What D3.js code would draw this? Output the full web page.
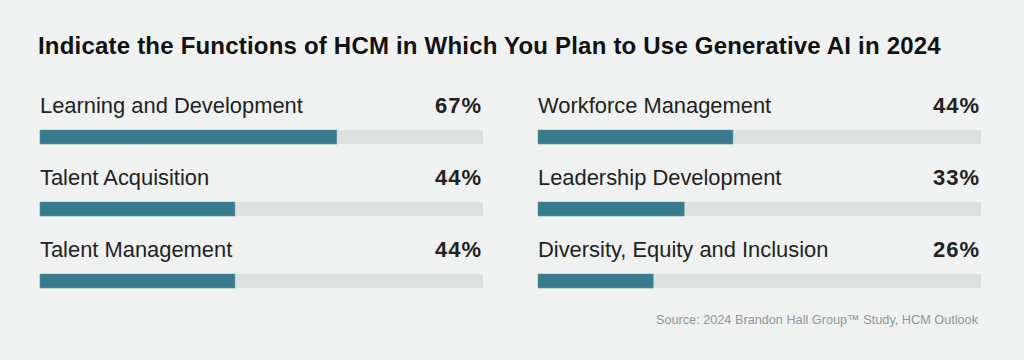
<!DOCTYPE html>
<html><head><meta charset="utf-8">
<script src="https://cdn.jsdelivr.net/npm/d3@7"></script>
<style>html,body{margin:0;padding:0;background:#f0f2f1;}svg{display:block;}</style>
</head><body>
<svg id="chart" width="1024" height="360"></svg>
<script>
const title = "Indicate the Functions of HCM in Which You Plan to Use Generative AI in 2024";
const categories = ["Learning and Development","Talent Acquisition","Talent Management","Workforce Management","Leadership Development","Diversity, Equity and Inclusion"];
const values = [67,44,44,44,33,26];
const source = "Source: 2024 Brandon Hall Group\u2122 Study, HCM Outlook";

const svg = d3.select("#chart");
const W = 1024, H = 360;
svg.append("rect").attr("width",W).attr("height",H).attr("fill","#f0f2f1");

svg.append("text").attr("x",38).attr("y",54)
  .attr("font-family","Liberation Sans, Arial, sans-serif").attr("font-weight","bold")
  .attr("font-size",24).attr("letter-spacing",0.2).attr("fill","#111").text(title);

const colX = [40, 538];
const trackW = 443;
const x = d3.scaleLinear().domain([0,100]).range([0,trackW]);
const rowY = d3.scalePoint().domain([0,1,2]).range([130,274]);

const data = categories.map((c,i)=>({c, v:values[i], col: Math.floor(i/3), row: i%3}));
const g = svg.selectAll("g.item").data(data).join("g").attr("class","item")
  .attr("transform", d=>`translate(${colX[d.col]},${rowY(d.row)})`);

g.append("rect").attr("x",0).attr("y",0).attr("width",trackW).attr("height",14).attr("fill","#dde0e1");
g.append("rect").attr("x",0).attr("y",0).attr("width",d=>x(d.v)).attr("height",14)
  .attr("fill","#367a8c").attr("stroke","#5d98a8").attr("stroke-width",0.6);
g.append("text").attr("x",0).attr("y",-17)
  .attr("font-family","Liberation Sans, Arial, sans-serif").attr("font-size",21.9).attr("fill","#222")
  .text(d=>d.c);
g.append("text").attr("x",trackW-1).attr("y",-17).attr("text-anchor","end")
  .attr("font-family","Liberation Sans, Arial, sans-serif").attr("font-weight","bold").attr("font-size",22).attr("letter-spacing",1).attr("fill","#222")
  .text(d=>d.v+"%");

svg.append("text").attr("x",978).attr("y",324).attr("text-anchor","end")
  .attr("font-family","Liberation Sans, Arial, sans-serif").attr("font-size",12.7).attr("fill","#8d979b")
  .text(source);
</script>
</body></html>
